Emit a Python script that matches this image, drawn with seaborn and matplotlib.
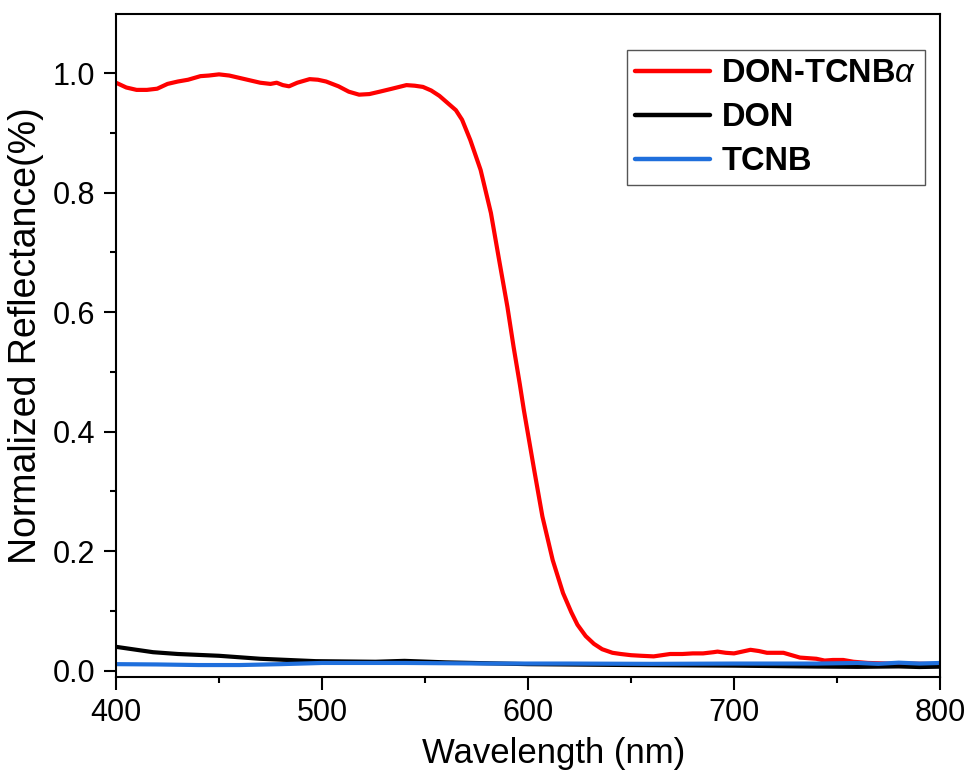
import matplotlib
matplotlib.use("Agg")
import matplotlib.pyplot as plt
import seaborn as sns
import pandas as pd
from matplotlib.ticker import MultipleLocator

# ---- data ----
red_wl = [400, 405, 410, 415, 420, 425, 430, 435, 441, 445, 450, 455, 460, 465, 470, 475,
          478, 481, 484, 488, 494, 498, 502, 508, 513, 518, 523, 528, 534, 541, 545, 549,
          553, 557, 561, 565, 568, 572, 577, 582, 586, 590, 593, 596, 598, 603, 607, 612,
          617, 621, 624, 628, 632, 636, 641, 645, 650, 655, 661, 665, 669, 675, 680, 685,
          690, 692, 696, 700, 704, 708, 712, 716, 720, 724, 728, 732, 736, 740, 744, 748,
          753, 758, 765, 775, 785, 800]
red_val = [0.984, 0.976, 0.972, 0.972, 0.974, 0.982, 0.986, 0.989, 0.995, 0.996, 0.998, 0.996,
           0.992, 0.988, 0.984, 0.982, 0.984, 0.980, 0.978, 0.984, 0.990, 0.989, 0.986, 0.978,
           0.969, 0.964, 0.965, 0.969, 0.974, 0.980, 0.979, 0.977, 0.971, 0.962, 0.950, 0.938,
           0.922, 0.888, 0.838, 0.766, 0.687, 0.609, 0.542, 0.480, 0.436, 0.336, 0.258, 0.185,
           0.130, 0.098, 0.077, 0.058, 0.045, 0.036, 0.030, 0.028, 0.026, 0.025, 0.024, 0.026,
           0.028, 0.028, 0.029, 0.029, 0.031, 0.032, 0.030, 0.029, 0.032, 0.035, 0.033, 0.030,
           0.030, 0.030, 0.026, 0.022, 0.021, 0.020, 0.017, 0.018, 0.018, 0.015, 0.013, 0.012,
           0.012, 0.011]

don_wl = [400, 410, 418, 430, 450, 470, 497, 526, 540, 560, 600, 650, 700, 740, 760, 780, 790, 800]
don_val = [0.040, 0.035, 0.031, 0.028, 0.025, 0.020, 0.016, 0.015, 0.0165, 0.014, 0.011, 0.0095,
           0.0085, 0.007, 0.0065, 0.0072, 0.0062, 0.0068]

tcnb_wl = [400, 420, 440, 460, 480, 500, 540, 580, 620, 660, 700, 740, 760, 770, 780, 790, 800]
tcnb_val = [0.0110, 0.0105, 0.0095, 0.0095, 0.0110, 0.0130, 0.0130, 0.0120, 0.0120, 0.0115,
            0.0120, 0.0120, 0.0130, 0.0115, 0.0135, 0.0120, 0.0130]

labels = [r"DON-TCNB$\mathit{\alpha}$", "DON", "TCNB"]
colors = ["#ff0000", "#000000", "#1f6fdc"]

df = pd.concat([
    pd.DataFrame({"Wavelength": red_wl, "Reflectance": red_val, "Sample": labels[0]}),
    pd.DataFrame({"Wavelength": don_wl, "Reflectance": don_val, "Sample": labels[1]}),
    pd.DataFrame({"Wavelength": tcnb_wl, "Reflectance": tcnb_val, "Sample": labels[2]}),
], ignore_index=True)

sns.set_theme(style="ticks")
plt.rcParams["font.family"] = ["Liberation Sans", "DejaVu Sans"]
plt.rcParams["mathtext.fontset"] = "custom"
plt.rcParams["mathtext.it"] = "Liberation Sans:italic"
plt.rcParams["mathtext.rm"] = "Liberation Sans"
for k in ["text.color", "axes.labelcolor", "xtick.color", "ytick.color", "axes.edgecolor"]:
    plt.rcParams[k] = "black"

fig = plt.figure(figsize=(9.68, 7.76), dpi=100)
ax = fig.add_axes([116 / 968, 1 - 677 / 776, (940 - 116) / 968, (677 - 14) / 776])

sns.lineplot(data=df, x="Wavelength", y="Reflectance", hue="Sample",
             palette=dict(zip(labels, colors)), hue_order=labels,
             estimator=None, sort=True, linewidth=3.0, ax=ax)

ax.set_xlim(400, 800)
ax.set_ylim(-0.0105, 1.099)
ax.xaxis.set_major_locator(MultipleLocator(100))
ax.xaxis.set_minor_locator(MultipleLocator(50))
ax.yaxis.set_major_locator(MultipleLocator(0.2))
ax.yaxis.set_minor_locator(MultipleLocator(0.1))
ax.yaxis.set_major_formatter(matplotlib.ticker.FormatStrFormatter("%.1f"))

ax.tick_params(axis="both", which="major", direction="out", length=9, width=1.5,
               labelsize=22, pad=6, colors="black")
ax.tick_params(axis="both", which="minor", direction="out", length=4.5, width=1.5)
ax.tick_params(top=False, right=False)
for s in ax.spines.values():
    s.set_linewidth(1.5)
    s.set_color("black")
    s.set_visible(True)

ax.set_xlabel("Wavelength (nm)", fontsize=25)
ax.xaxis.set_label_coords((554 - 116) / 824, -0.09)
ax.set_ylabel("Normalized Reflectance(%)", fontsize=27)
ax.yaxis.set_label_coords(-(116 - 44) / 824, (677 - 336) / 663)

leg = ax.legend(loc="upper right", bbox_to_anchor=(1 - 15 / 824, 1 - 36 / 663),
                prop={"family": "Liberation Sans", "weight": "bold", "size": 23.5},
                frameon=True, fancybox=False, edgecolor="#555555", framealpha=1,
                handlelength=2.3, handletextpad=0.35, labelspacing=0.4,
                borderpad=0.25, borderaxespad=0)
leg.get_frame().set_linewidth(1.0)
for h in leg.get_lines():
    h.set_linewidth(3.2)
for t in leg.get_texts():
    t.set_color("black")

fig.savefig("out.png", dpi=100)
